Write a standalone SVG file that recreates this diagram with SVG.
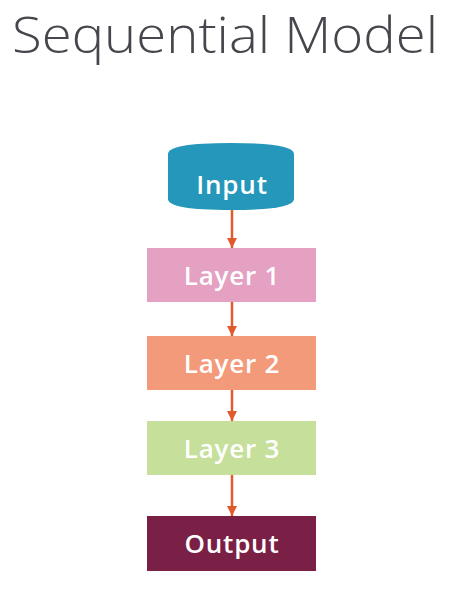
<svg xmlns="http://www.w3.org/2000/svg" width="476" height="615" viewBox="0 0 476 615">
<defs>
<style>
.title{font-family:"Open Sans","Liberation Sans",sans-serif;font-weight:300;font-size:50px;fill:#45474c}
.lbl{font-family:"Open Sans","Liberation Sans",sans-serif;font-weight:600;font-size:26px;letter-spacing:0.8px;fill:#ffffff;text-anchor:middle}
.conn{stroke:#e05a2c;stroke-width:2.5;fill:none}
</style>
<marker id="ah" viewBox="0 0 10 10" refX="10" refY="5" markerWidth="4" markerHeight="4" markerUnits="strokeWidth" orient="auto">
<path d="M0,0 L10,5 L0,10 z" fill="#e05a2c"/>
</marker>
</defs>
<rect width="476" height="615" fill="#ffffff"/>
<text class="title" x="12" y="53" textLength="426" lengthAdjust="spacingAndGlyphs">Sequential Model</text>
<g id="connectors">
<line class="conn" x1="232" y1="210" x2="232" y2="248" marker-end="url(#ah)"/>
<line class="conn" x1="232" y1="302" x2="232" y2="336" marker-end="url(#ah)"/>
<line class="conn" x1="232" y1="390" x2="232" y2="421" marker-end="url(#ah)"/>
<line class="conn" x1="232" y1="475" x2="232" y2="516" marker-end="url(#ah)"/>
</g>
<g id="input">
<path d="M168,154 Q168,143 231,143 Q294,143 294,154 L294,199 Q294,210 231,210 Q168,210 168,199 Z" fill="#2497bb"/>
<text class="lbl" x="232" y="194">Input</text>
</g>
<g id="layer1">
<rect x="147" y="248" width="169" height="54" fill="#e4a1c1"/>
<text class="lbl" x="232" y="285">Layer 1</text>
</g>
<g id="layer2">
<rect x="147" y="336" width="169" height="54" fill="#f39a7b"/>
<text class="lbl" x="232" y="373">Layer 2</text>
</g>
<g id="layer3">
<rect x="147" y="421" width="169" height="54" fill="#c6e09c"/>
<text class="lbl" x="232" y="458">Layer 3</text>
</g>
<g id="output">
<rect x="147" y="516" width="169" height="55" fill="#7a1f45"/>
<text class="lbl" x="232" y="553">Output</text>
</g>
</svg>
